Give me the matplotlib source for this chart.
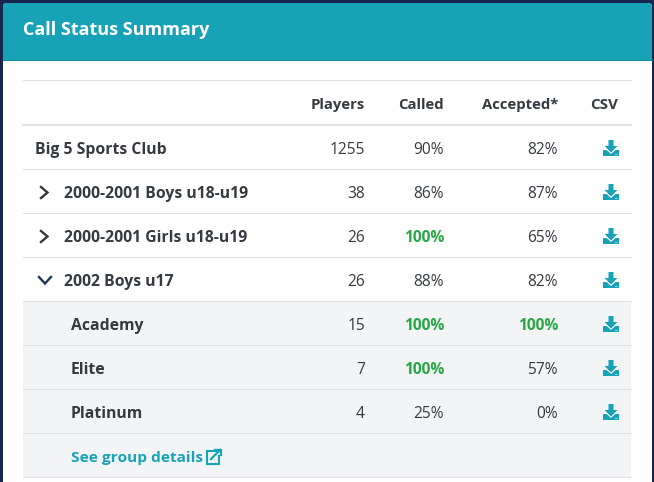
import matplotlib
matplotlib.use("Agg")
import matplotlib.pyplot as plt
from matplotlib.patches import FancyBboxPatch, Rectangle, Polygon

# ======== TABLE DATA ========
title = "Call Status Summary"
headers = ["Players", "Called", "Accepted*", "CSV"]
row_names = ["Big 5 Sports Club", "2000-2001 Boys u18-u19", "2000-2001 Girls u18-u19",
             "2002 Boys u17", "Academy", "Elite", "Platinum"]
players = [1255, 38, 26, 26, 15, 7, 4]
called = [90, 86, 100, 88, 100, 100, 25]
accepted = [82, 87, 65, 82, 100, 57, 0]
link_text = "See group details"

TEAL = "#17a2b8"
DARK = "#343a40"
GREEN = "#28a745"
LINE = "#dee2e6"

plt.rcParams['font.family'] = ['Open Sans', 'DejaVu Sans']

fig = plt.figure(figsize=(6.54, 4.82), dpi=100, facecolor="#16264f")
ax = fig.add_axes([0, 0, 1, 1])
ax.set_xlim(0, 654)
ax.set_ylim(482, 0)
ax.axis("off")

# card + header
ax.add_patch(FancyBboxPatch((3, 3), 649, 520, boxstyle="round,pad=0,rounding_size=4",
                            fc="white", ec="none"))
ax.add_patch(FancyBboxPatch((3, 3), 649, 70, boxstyle="round,pad=0,rounding_size=4",
                            fc=TEAL, ec="none"))
ax.add_patch(Rectangle((3, 60), 649, 30, fc="white", ec="none"))
ax.plot([3, 652], [59.5, 59.5], color="#148fa3", lw=0.8)
ax.text(23, 35, title, color="white", fontsize=13.0, fontweight="bold", va="baseline")

# grey block for the expanded group
ax.add_patch(Rectangle((23, 301), 608, 176, fc="#f3f4f6", ec="none"))

# rules
ax.plot([23, 631], [80, 80], color=LINE, lw=0.8)
ax.plot([23, 631], [125, 125], color=LINE, lw=1.5)
for i in range(8):
    y = 169 + 44 * i
    ax.plot([23, 631], [y, y], color=LINE, lw=0.8)


def download_icon(x, y):
    # tray with arrow, centred on x / y
    ax.add_patch(Polygon([(x - 2.5, y - 9), (x + 2.5, y - 9), (x + 2.5, y - 3), (x + 6.5, y - 3),
                          (x, y + 3.5), (x - 6.5, y - 3), (x - 2.5, y - 3)], fc=TEAL, ec="none"))
    ax.add_patch(Polygon([(x - 8, y + 1), (x - 4.5, y + 1), (x, y + 5), (x + 4.5, y + 1), (x + 8, y + 1),
                          (x + 8, y + 7), (x - 8, y + 7)], fc=TEAL, ec="none"))
    ax.plot([x + 3.5, x + 6], [y + 5, y + 5], color="white", lw=0.8, ls=(0, (1, 0.6)))


def pct_color(v):
    return GREEN if v == 100 else DARK


# header row
header_right = [365, 444, 558]
for label, xr in zip(headers[:3], header_right):
    ax.text(xr, 109, label, color=DARK, fontsize=10.7, fontweight="bold", ha="right", va="baseline")
ax.text(604.5, 109, headers[3], color=DARK, fontsize=10.9, fontweight="bold", ha="center", va="baseline")

# rows
name_x = [35, 64, 64, 64, 71, 71, 71]
for i, name in enumerate(row_names):
    y = 149 + 44 * i
    ty = y + 5
    ax.text(name_x[i], ty, name, color=DARK, fontsize=11.3, fontweight="bold", va="baseline")
    ax.text(365, ty, str(players[i]), color=DARK, fontsize=11.2, ha="right", va="baseline")
    bold_c = "bold" if called[i] == 100 else "normal"
    bold_a = "bold" if accepted[i] == 100 else "normal"
    ax.text(444, ty, f"{called[i]}%", color=pct_color(called[i]), fontsize=11.2,
            fontweight=bold_c, ha="right", va="baseline")
    ax.text(558, ty, f"{accepted[i]}%", color=pct_color(accepted[i]), fontsize=11.2,
            fontweight=bold_a, ha="right", va="baseline")
    download_icon(611, y)

# chevrons
for y in [192.5, 236.5]:
    ax.plot([41, 47.5, 41], [y - 5.5, y, y + 5.5], color=DARK, lw=1.7, solid_joinstyle="miter")
ax.plot([39, 45, 51], [277, 283.5, 277], color="#1f3556", lw=1.7, solid_joinstyle="miter")

# link row
ax.text(71, 462, link_text, color=TEAL, fontsize=11.1, fontweight="bold", va="baseline")
ax.plot([216, 206.5, 206.5, 219, 219], [451, 451, 464, 464, 456], color=TEAL, lw=1.5,
        solid_joinstyle="miter")
ax.plot([211, 220], [459, 450], color=TEAL, lw=1.6)
ax.plot([214.5, 220.5, 220.5], [449.5, 449.5, 455], color=TEAL, lw=1.6, solid_joinstyle="miter")

fig.savefig("out.png", dpi=100, facecolor=fig.get_facecolor())
